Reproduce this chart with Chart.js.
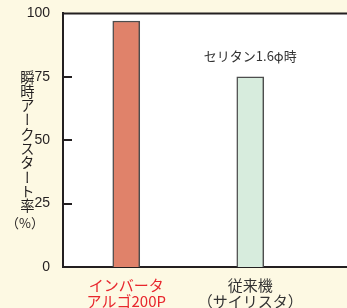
<!DOCTYPE html>
<html lang="ja">
<head>
<meta charset="utf-8">
<script src="https://cdn.jsdelivr.net/npm/chart.js@4"></script>
<style>
  html, body { margin: 0; padding: 0; background: #fdf9e3; }
  #wrap { position: relative; width: 347px; height: 308px; overflow: hidden; }
  #ytitle {
    position: absolute; left: 17px; top: 70px;
    writing-mode: vertical-rl; text-orientation: upright;
    font: 14.3px "Noto Sans CJK JP", sans-serif; color: #231f20;
  }
  #yunit {
    position: absolute; left: 5px; top: 213px; width: 40px; text-align: center;
    font: 13px "Noto Sans CJK JP", sans-serif; color: #231f20;
  }
</style>
</head>
<body>
<div id="wrap">
  <canvas id="c" width="347" height="308"></canvas>
  <div id="ytitle">瞬時アークスタート率</div>
  <div id="yunit">（%）</div>
</div>
<script>
  "use strict";

  // データ
  const positions = [1, 2];
  const categoryLines = [["インバータ", "アルゴ200P"], ["従来機", "（サイリスタ）"]];
  const categoryColors = ["#e8262d", "#333333"];
  const arcStartRate = [97, 75];
  const barColors = ["#e0826a", "#d7ecdd"];
  const yTicks = [0, 25, 50, 75, 100];
  const note = "セリタン1.6φ時";

  const ink = "#231f20";

  // プロット領域の白地と上辺、内向きの目盛り
  const frame = {
    id: "frame",
    beforeDraw(chart) {
      const { ctx, chartArea: a } = chart;
      ctx.save();
      ctx.fillStyle = "#ffffff";
      ctx.fillRect(a.left, a.top, a.right - a.left, a.bottom - a.top);
      ctx.restore();
    },
    afterDraw(chart) {
      const { ctx, chartArea: a, scales } = chart;
      ctx.save();
      ctx.strokeStyle = ink;
      ctx.lineWidth = 2;
      ctx.beginPath();
      ctx.moveTo(a.left - 1, a.top);
      ctx.lineTo(a.right, a.top);
      yTicks.slice(1, -1).forEach((v) => {
        const y = Math.round(scales.y.getPixelForValue(v));
        ctx.moveTo(a.left, y);
        ctx.lineTo(a.left + 9, y);
      });
      ctx.stroke();
      // 注記
      const bar = chart.getDatasetMeta(0).data[1];
      ctx.fillStyle = "#333333";
      ctx.font = '13px "Noto Sans CJK JP", sans-serif';
      ctx.textAlign = "center";
      ctx.textBaseline = "middle";
      ctx.fillText(note, bar.x, bar.y - 21);
      ctx.restore();
    },
  };

  new Chart(document.getElementById("c"), {
    type: "bar",
    data: {
      datasets: [{
        data: positions.map((x, i) => ({ x, y: arcStartRate[i] })),
        backgroundColor: barColors,
        borderColor: "#4d4d4d",
        borderWidth: 1.5,
        borderSkipped: "bottom",
        barThickness: 27,
      }],
    },
    options: {
      responsive: false,
      animation: false,
      layout: { padding: { top: 12, left: 0, right: 0, bottom: 0 } },
      plugins: { legend: { display: false }, tooltip: { enabled: false } },
      scales: {
        x: {
          type: "linear", min: 0.49, max: 2.78, offset: false,
          afterBuildTicks: (s) => { s.ticks = positions.map((v) => ({ value: v })); },
          afterFit: (s) => { s.height = 41; },
          grid: { display: false, offset: false },
          border: { display: true, color: ink, width: 2 },
          ticks: {
            padding: 2,
            color: (c) => categoryColors[c.index],
            font: { family: '"Noto Sans CJK JP", sans-serif', size: 15, lineHeight: 1.08 },
            callback: (v, i) => categoryLines[i],
            maxRotation: 0, autoSkip: false,
          },
        },
        y: {
          min: 0, max: 100,
          afterBuildTicks: (s) => { s.ticks = yTicks.map((v) => ({ value: v })); },
          afterFit: (s) => { s.width = 63; },
          grid: { display: false },
          border: { display: true, color: ink, width: 2 },
          ticks: {
            padding: 5,
            color: ink,
            font: { family: '"Liberation Sans", Arial, sans-serif', size: 14 },
          },
        },
      },
    },
    plugins: [frame],
  });
</script>
</body>
</html>
